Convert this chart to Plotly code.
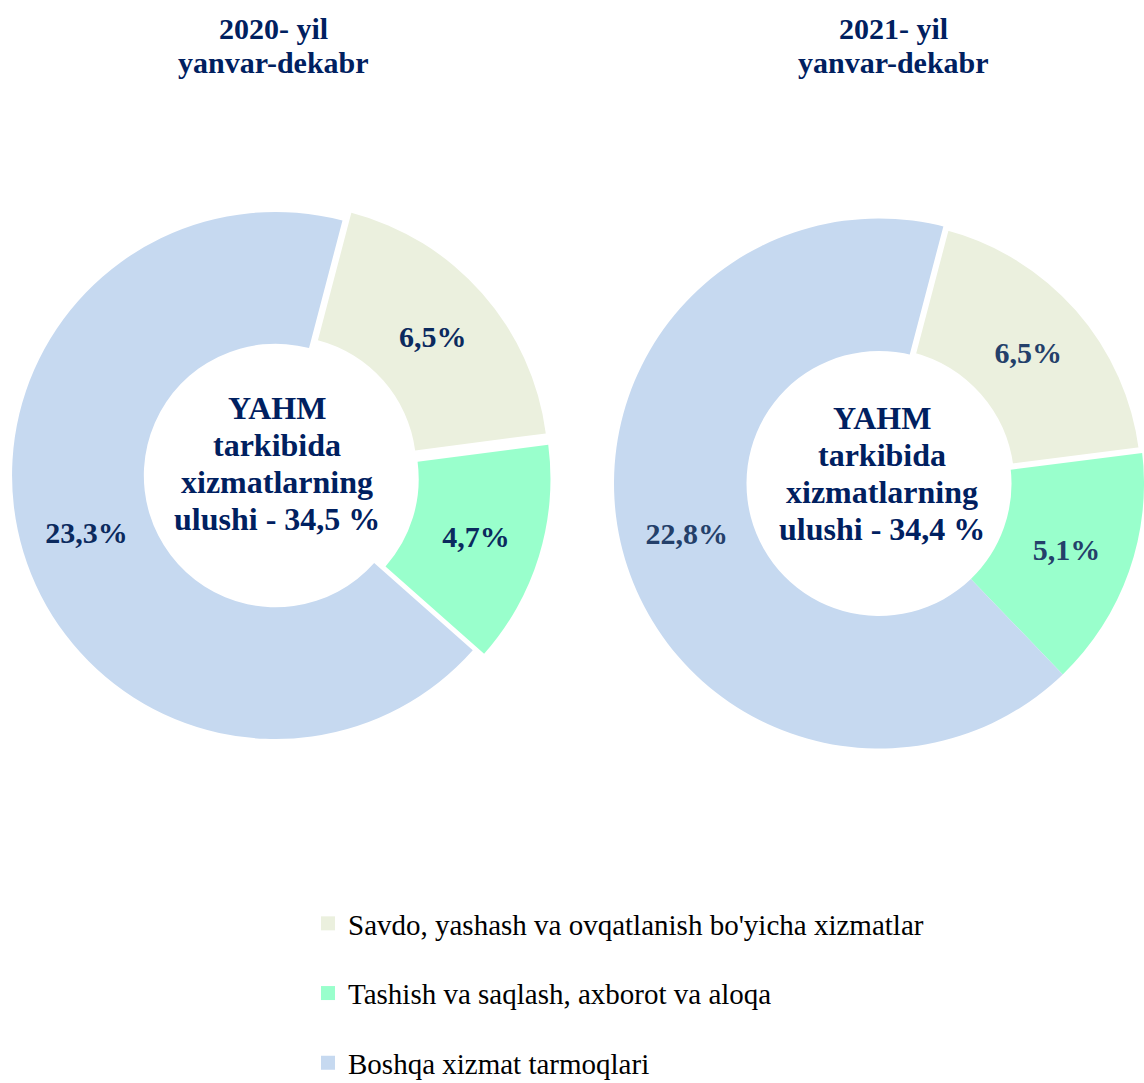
import plotly.graph_objects as go

# ---------------- data ----------------
categories = [
    "Savdo, yashash va ovqatlanish bo'yicha xizmatlar",
    "Tashish va saqlash, axborot va aloqa",
    "Boshqa xizmat tarmoqlari",
]
values_2020 = [6.5, 4.7, 23.3]
values_2021 = [6.5, 5.1, 22.8]
total_share = [34.5, 34.4]
years = ["2020", "2021"]
colors = ["#EBF0DE", "#99FFCC", "#C6D9F0"]

# ---------------- helpers ----------------
W, H = 1144, 1083


def px(x):
    return x / W


def py(y):
    return 1 - y / H


def fmt(v):
    return f"{v:.1f}".replace(".", ",")


SERIF = "Liberation Serif, Times New Roman, serif"
NAVY = "#002060"

fig = go.Figure()

# draw order: tashish, boshqa, savdo (savdo last), clockwise
order = [1, 2, 0]
start_angle = 14.7

pies = [
    dict(vals=values_2020, dx=[px(0.2), px(551)], dy=[py(751), py(200)],
         pull=[0.045, 0.0, 0.045], lw=[0, 0, 0], tc="#0B2A5E"),
    dict(vals=values_2021, dx=[px(614), 1.0], dy=[py(749), py(218)],
         pull=[0.0, 0.0, 0.0], lw=[0, 0, 6], tc="#24406A"),
]

for p in pies:
    vals = p["vals"]
    tot = sum(vals)
    # first drawn slice (tashish) starts right after savdo
    rot = start_angle + vals[0] / tot * 360.0
    fig.add_trace(go.Pie(
        labels=[categories[i] for i in order],
        values=[vals[i] for i in order],
        text=[fmt(vals[i]) + "%" for i in order],
        texttemplate="<b>%{text}</b>",
        textposition="inside",
        insidetextorientation="horizontal",
        textfont=dict(family=SERIF, size=30, color=p["tc"]),
        marker=dict(colors=[colors[i] for i in order],
                    line=dict(color="white", width=p["lw"])),
        pull=p["pull"],
        hole=0.5,
        sort=False,
        direction="clockwise",
        rotation=rot,
        domain=dict(x=p["dx"], y=p["dy"]),
        showlegend=False,
        hoverinfo="label+percent",
    ))

# legend via dummy traces (one group each for spacing)
for cat, col in zip(categories, colors):
    fig.add_trace(go.Scatter(
        x=[None], y=[None], mode="markers",
        marker=dict(symbol="square", size=14, color=col),
        name=cat, legendgroup=cat, showlegend=True,
    ))

annotations = []
# titles
title_x = [273, 893]
for yr, tx in zip(years, title_x):
    for txt, ty in zip([f"{yr}- yil", "yanvar-dekabr"], [29, 62]):
        annotations.append(dict(
            x=px(tx), y=py(ty), xref="paper", yref="paper", showarrow=False,
            text=f"<b>{txt}</b>", font=dict(family=SERIF, size=30, color=NAVY),
            xanchor="center", yanchor="middle"))

# centre texts
centre_x = [277, 882]
centre_y0 = [408, 418]
for tot, cx, cy0 in zip(total_share, centre_x, centre_y0):
    lines = ["YAHM", "tarkibida", "xizmatlarning", f"ulushi - {fmt(tot)} %"]
    for k, ln in enumerate(lines):
        annotations.append(dict(
            x=px(cx), y=py(cy0 + 37 * k), xref="paper", yref="paper",
            showarrow=False, text=f"<b>{ln}</b>",
            font=dict(family=SERIF, size=32, color=NAVY),
            xanchor="center", yanchor="middle"))

fig.update_layout(
    width=W, height=H,
    margin=dict(l=0, r=0, t=0, b=0, autoexpand=False),
    paper_bgcolor="white", plot_bgcolor="white",
    xaxis=dict(visible=False), yaxis=dict(visible=False),
    annotations=annotations,
    legend=dict(
        x=px(308), y=py(898), xanchor="left", yanchor="top",
        font=dict(family=SERIF, size=29, color="#000000"),
        tracegroupgap=29, bgcolor="rgba(0,0,0,0)",
    ),
)

fig.write_html("out.html", config={"displayModeBar": False},
               post_script="document.body.style.margin='0px';")
